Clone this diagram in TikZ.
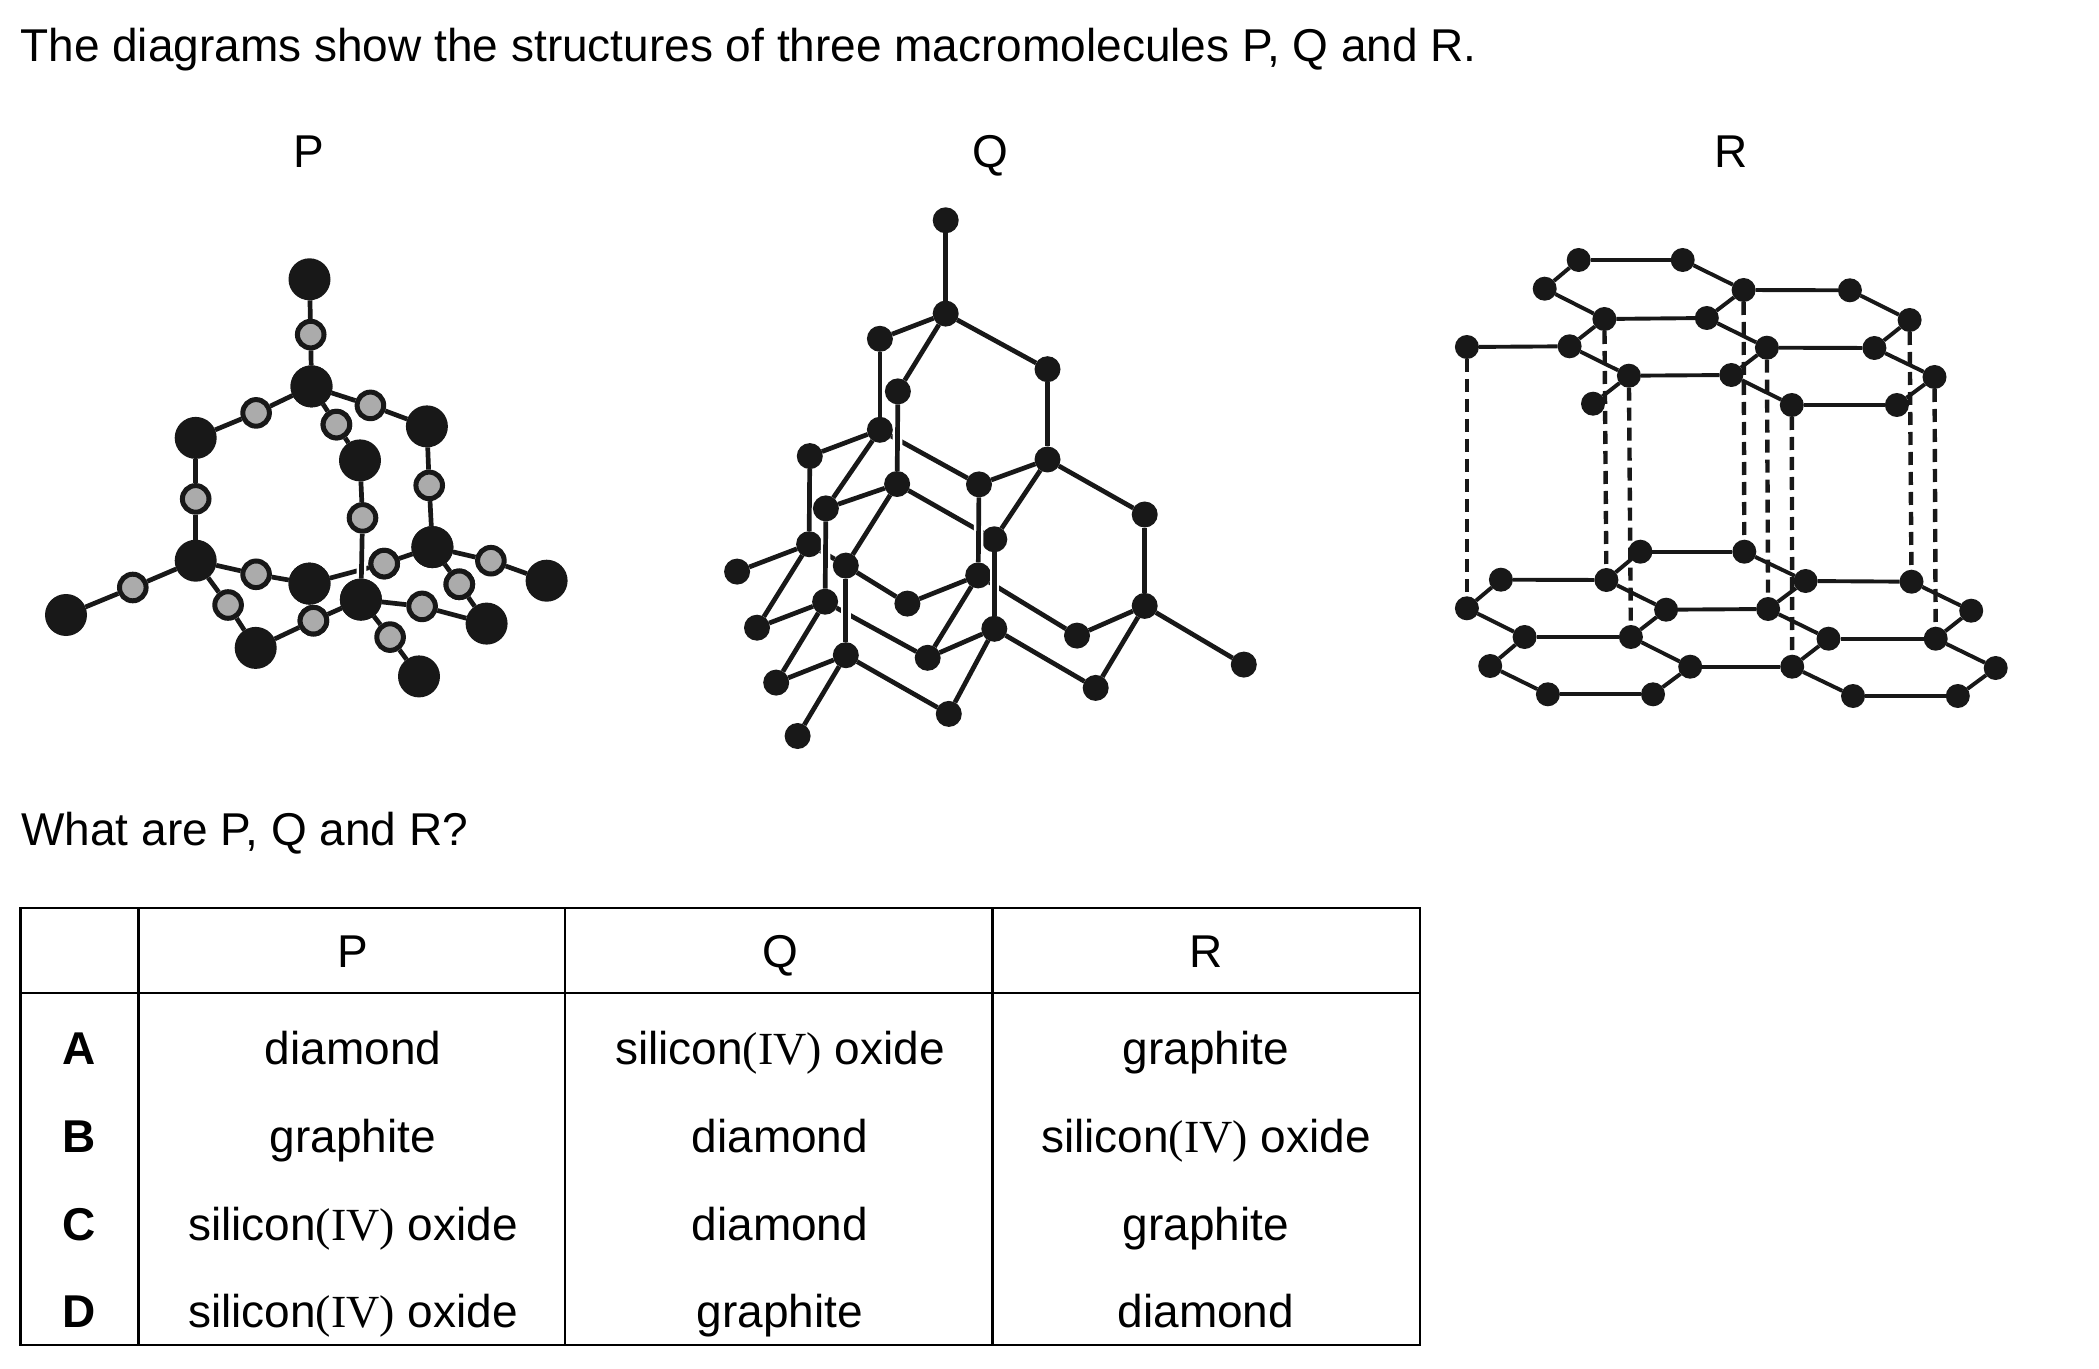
\documentclass[tikz,border=0pt]{standalone}
\usepackage{fontspec}
\setmainfont{Liberation Sans}
\newfontfamily\serifpart{Liberation Serif}
\definecolor{inkblack}{RGB}{24,24,24}
\definecolor{oxygengrey}{RGB}{171,171,171}
\newcommand{\siliconox}{silicon{\serifpart(IV)} oxide}

\begin{document}
\begin{tikzpicture}[x=0.50pt,y=0.50pt,yscale=-1,xscale=1,
  label/.style={anchor=base,inner sep=0pt,font=\fontsize{23}{27}\selectfont},
  leftlabel/.style={label,anchor=base west},
  rowlabel/.style={label,font=\fontsize{23}{27}\selectfont\bfseries},
  bigatom/.style={circle,fill=inkblack,inner sep=0pt,outer sep=0pt,minimum size=21pt},
  oxygen/.style={circle,draw=inkblack,fill=oxygengrey,line width=2.5pt,inner sep=0pt,minimum size=13.3pt},
  qatom/.style={circle,fill=inkblack,inner sep=0pt,outer sep=0pt,minimum size=13pt},
  ratom/.style={circle,fill=inkblack,inner sep=0pt,outer sep=0pt,minimum size=12pt},
  bond/.style={draw=inkblack,line width=2.35pt},
  rbond/.style={draw=inkblack,line width=1.95pt},
  gapbond/.style={draw=white,line width=4.8pt},
  layerdash/.style={draw=inkblack,line width=2.2pt,dash pattern=on 6.5pt off 3.5pt},
  tablerule/.style={draw=black,line width=1.4pt}]
\useasboundingbox (0,0) rectangle (2099,1369);

% Text Node
\node [leftlabel] (title) at (20,62) {The diagrams show the structures of three macromolecules P, Q and R.};
\node [label] (nameP) at (308.5,168) {P};
\node [label] (nameQ) at (990.5,168) {Q};
\node [label] (nameR) at (1731.5,168) {R};
\node [leftlabel] (question) at (21,845) {What are P, Q and R?};

% Structure P: silicon atoms
\node [bigatom] (pa) at (309.5,279.3) {};
\node [bigatom] (pb) at (311.5,386.4) {};
\node [bigatom] (pc) at (195.7,437.9) {};
\node [bigatom] (pd) at (426.9,426.4) {};
\node [bigatom] (pe) at (360,460.4) {};
\node [bigatom] (pf) at (195.7,560.7) {};
\node [bigatom] (pg) at (432.4,547.1) {};
\node [bigatom] (ph) at (309.5,583.6) {};
\node [bigatom] (pi) at (360.9,599.6) {};
\node [bigatom] (pj) at (66,615) {};
\node [bigatom] (pk) at (546.6,580.7) {};
\node [bigatom] (pl) at (486.6,623.6) {};
\node [bigatom] (pm) at (255.7,647.9) {};
\node [bigatom] (pn) at (419,676.4) {};
% Structure P: oxygen atoms
\node [oxygen] (oa) at (310.7,334.6) {};
\node [oxygen] (ob) at (256.1,412.9) {};
\node [oxygen] (oc) at (336.4,424.6) {};
\node [oxygen] (od) at (370.4,405.4) {};
\node [oxygen] (oe) at (195.7,498.9) {};
\node [oxygen] (of) at (429.2,485.4) {};
\node [oxygen] (og) at (362.5,517.9) {};
\node [oxygen] (oh) at (384.2,563.6) {};
\node [oxygen] (oi) at (256.1,574.3) {};
\node [oxygen] (oj) at (132.8,587.5) {};
\node [oxygen] (ok) at (228.1,605) {};
\node [oxygen] (ol) at (313.4,620.7) {};
\node [oxygen] (om) at (422.1,606.4) {};
\node [oxygen] (on) at (490.9,560.7) {};
\node [oxygen] (oo) at (459.3,584.3) {};
\node [oxygen] (op) at (390.1,637.1) {};

% Connection
\draw [bond] (pa) -- (oa);
\draw [bond] (oa) -- (pb);
\draw [bond] (pb) -- (ob);
\draw [bond] (ob) -- (pc);
\draw [bond] (pb) -- (oc);
\draw [bond] (oc) -- (pe);
\draw [bond] (pb) -- (od);
\draw [bond] (od) -- (pd);
\draw [bond] (pc) -- (oe);
\draw [bond] (oe) -- (pf);
\draw [bond] (pd) -- (of);
\draw [bond] (of) -- (pg);
\draw [bond] (pg) -- (oh);
\draw [bond] (oh) -- (ph);
\draw [bond] (pf) -- (oi);
\draw [bond] (oi) -- (ph);
\draw [bond] (pf) -- (oj);
\draw [bond] (oj) -- (pj);
\draw [bond] (pf) -- (ok);
\draw [bond] (ok) -- (pm);
\draw [bond] (pm) -- (ol);
\draw [bond] (ol) -- (pi);
\draw [bond] (pi) -- (om);
\draw [bond] (om) -- (pl);
\draw [bond] (pi) -- (op);
\draw [bond] (op) -- (pn);
\draw [bond] (pg) -- (on);
\draw [bond] (on) -- (pk);
\draw [bond] (pg) -- (oo);
\draw [bond] (oo) -- (pl);
\draw [gapbond] (og) -- (pi);
\draw [bond] (pe) -- (og);
\draw [bond] (og) -- (pi);
% atoms again, above the bonds
\foreach \atom/\px/\py in {ph/309.5/583.6,pb/311.5/386.4,pi/360.9/599.6,pg/432.4/547.1}
  \node [bigatom] at (\px,\py) {};
\foreach \atom/\px/\py in {ol/313.4/620.7,oc/336.4/424.6,oh/384.2/563.6,oo/459.3/584.3}
  \node [oxygen] at (\px,\py) {};

% Structure Q
\node [qatom] (qa) at (945.7,220.3) {};
\node [qatom] (qb) at (945.7,313.6) {};
\node [qatom] (qc) at (879.9,338.8) {};
\node [qatom] (qd) at (1047.5,369.2) {};
\node [qatom] (qe) at (897.9,391.4) {};
\node [qatom] (qf) at (879.9,429.8) {};
\node [qatom] (qg) at (1047.5,459.5) {};
\node [qatom] (qh) at (809.8,456.1) {};
\node [qatom] (qi) at (979,484.4) {};
\node [qatom] (qj) at (897.1,484) {};
\node [qatom] (qk) at (825.9,508.4) {};
\node [qatom] (ql) at (1144.7,514.5) {};
\node [qatom] (qm) at (994.3,539.3) {};
\node [qatom] (qn) at (809.1,544.2) {};
\node [qatom] (qo) at (737.1,571.6) {};
\node [qatom] (qp) at (845.8,565.6) {};
\node [qatom] (qq) at (978.2,575.4) {};
\node [qatom] (qr) at (825.1,601.7) {};
\node [qatom] (qs) at (907.4,603.6) {};
\node [qatom] (qt) at (757,627.7) {};
\node [qatom] (qu) at (1144.7,605.9) {};
\node [qatom] (qv) at (994.3,628.8) {};
\node [qatom] (qw) at (1077,635.6) {};
\node [qatom] (qx) at (845.8,655.2) {};
\node [qatom] (qy) at (927.7,657.8) {};
\node [qatom] (qz) at (1243.8,664.6) {};
\node [qatom] (qA) at (776.2,682.6) {};
\node [qatom] (qB) at (1095.7,687.9) {};
\node [qatom] (qC) at (948.8,713.9) {};
\node [qatom] (qD) at (797.6,736) {};

% Connection, the ones that pass behind a vertical bond
\draw [bond] (qf) -- (qi);
\draw [bond] (qj) -- (qm);
\draw [bond] (qn) -- (qp);
\draw [bond] (qq) -- (qw);
\draw [bond] (qr) -- (qy);
\draw [gapbond] (qe) -- (qj);
\draw [gapbond] (qi) -- (qq);
\draw [gapbond] (qk) -- (qr);
\draw [gapbond] (qm) -- (qv);
\draw [gapbond] (qp) -- (qx);
% Connection
\draw [bond] (qa) -- (qb);
\draw [bond] (qb) -- (qc);
\draw [bond] (qb) -- (qe);
\draw [bond] (qb) -- (qd);
\draw [bond] (qc) -- (qf);
\draw [bond] (qe) -- (qj);
\draw [bond] (qd) -- (qg);
\draw [bond] (qf) -- (qh);
\draw [bond] (qf) -- (qk);
\draw [bond] (qg) -- (qi);
\draw [bond] (qg) -- (qm);
\draw [bond] (qg) -- (ql);
\draw [bond] (qh) -- (qn);
\draw [bond] (qj) -- (qk);
\draw [bond] (qj) -- (qp);
\draw [bond] (qi) -- (qq);
\draw [bond] (qk) -- (qr);
\draw [bond] (ql) -- (qu);
\draw [bond] (qm) -- (qv);
\draw [bond] (qn) -- (qo);
\draw [bond] (qn) -- (qt);
\draw [bond] (qp) -- (qs);
\draw [bond] (qp) -- (qx);
\draw [bond] (qq) -- (qs);
\draw [bond] (qq) -- (qy);
\draw [bond] (qr) -- (qt);
\draw [bond] (qr) -- (qA);
\draw [bond] (qu) -- (qw);
\draw [bond] (qu) -- (qz);
\draw [bond] (qu) -- (qB);
\draw [bond] (qv) -- (qy);
\draw [bond] (qv) -- (qC);
\draw [bond] (qv) -- (qB);
\draw [bond] (qx) -- (qA);
\draw [bond] (qx) -- (qD);
\draw [bond] (qx) -- (qC);

% Structure R: upper layer
\node [ratom] (ra) at (1578.7,260) {};
\node [ratom] (rb) at (1682.7,260) {};
\node [ratom] (rc) at (1544.7,288.7) {};
\node [ratom] (rd) at (1743.6,290) {};
\node [ratom] (re) at (1849.9,290.3) {};
\node [ratom] (rf) at (1604.4,319) {};
\node [ratom] (rg) at (1706.8,318) {};
\node [ratom] (rh) at (1909.6,320) {};
\node [ratom] (ri) at (1466.9,347) {};
\node [ratom] (rj) at (1569.6,346.3) {};
\node [ratom] (rk) at (1766.9,347.7) {};
\node [ratom] (rl) at (1874.4,348) {};
\node [ratom] (rm) at (1628.9,375.7) {};
\node [ratom] (rn) at (1731.3,375) {};
\node [ratom] (ro) at (1934.5,377) {};
\node [ratom] (rp) at (1593,403.7) {};
\node [ratom] (rq) at (1791.8,405) {};
\node [ratom] (rr) at (1896.9,405) {};
% Structure R: lower layer
\node [ratom] (sa) at (1640.4,551.7) {};
\node [ratom] (sb) at (1744.3,551.7) {};
\node [ratom] (sc) at (1500.9,579.7) {};
\node [ratom] (sd) at (1606.4,580) {};
\node [ratom] (se) at (1805.6,581) {};
\node [ratom] (sf) at (1911.5,581.7) {};
\node [ratom] (sg) at (1466.9,608.3) {};
\node [ratom] (sh) at (1666.1,609.7) {};
\node [ratom] (si) at (1768.1,609) {};
\node [ratom] (sj) at (1971.2,610.7) {};
\node [ratom] (sk) at (1524.6,637) {};
\node [ratom] (sl) at (1630.9,637) {};
\node [ratom] (sm) at (1828.5,638.7) {};
\node [ratom] (sn) at (1935.7,638.7) {};
\node [ratom] (so) at (1490.2,666) {};
\node [ratom] (sp) at (1690.2,666.7) {};
\node [ratom] (sq) at (1792.2,666.7) {};
\node [ratom] (sr) at (1995.7,668) {};
\node [ratom] (ss) at (1547.9,694.3) {};
\node [ratom] (st) at (1653,694.3) {};
\node [ratom] (su) at (1853,696) {};
\node [ratom] (sv) at (1957.8,696) {};

% Dashed Connection
\draw [layerdash] (ri) -- (sg);
\draw [layerdash] (rf) -- (sd);
\draw [layerdash] (rm) -- (sl);
\draw [layerdash] (rd) -- (sb);
\draw [layerdash] (rk) -- (si);
\draw [layerdash] (rq) -- (sq);
\draw [layerdash] (rh) -- (sf);
\draw [layerdash] (ro) -- (sn);
% Connection
\draw [rbond] (ra) -- (rb);
\draw [rbond] (ra) -- (rc);
\draw [rbond] (rb) -- (rd);
\draw [rbond] (rc) -- (rf);
\draw [rbond] (rd) -- (rg);
\draw [rbond] (rd) -- (re);
\draw [rbond] (re) -- (rh);
\draw [rbond] (rf) -- (rg);
\draw [rbond] (rf) -- (rj);
\draw [rbond] (rg) -- (rk);
\draw [rbond] (rh) -- (rl);
\draw [rbond] (ri) -- (rj);
\draw [rbond] (rj) -- (rm);
\draw [rbond] (rk) -- (rn);
\draw [rbond] (rk) -- (rl);
\draw [rbond] (rl) -- (ro);
\draw [rbond] (rm) -- (rn);
\draw [rbond] (rm) -- (rp);
\draw [rbond] (rn) -- (rq);
\draw [rbond] (ro) -- (rr);
\draw [rbond] (rq) -- (rr);
% Connection
\draw [rbond] (sa) -- (sb);
\draw [rbond] (sa) -- (sd);
\draw [rbond] (sb) -- (se);
\draw [rbond] (sc) -- (sd);
\draw [rbond] (sc) -- (sg);
\draw [rbond] (sd) -- (sh);
\draw [rbond] (se) -- (sf);
\draw [rbond] (se) -- (si);
\draw [rbond] (sf) -- (sj);
\draw [rbond] (sg) -- (sk);
\draw [rbond] (sh) -- (si);
\draw [rbond] (sh) -- (sl);
\draw [rbond] (si) -- (sm);
\draw [rbond] (sj) -- (sn);
\draw [rbond] (sk) -- (sl);
\draw [rbond] (sk) -- (so);
\draw [rbond] (sl) -- (sp);
\draw [rbond] (sm) -- (sn);
\draw [rbond] (sm) -- (sq);
\draw [rbond] (sn) -- (sr);
\draw [rbond] (so) -- (ss);
\draw [rbond] (sp) -- (sq);
\draw [rbond] (sp) -- (st);
\draw [rbond] (sq) -- (su);
\draw [rbond] (sr) -- (sv);
\draw [rbond] (ss) -- (st);
\draw [rbond] (su) -- (sv);

% Table
\draw [tablerule] (20.4,908) rectangle (1420,1345);
\draw [tablerule] (20.4,993) -- (1420,993);
\draw [tablerule] (138.4,908) -- (138.4,1345);
\draw [tablerule] (565,908) -- (565,1345);
\draw [tablerule] (992.3,908) -- (992.3,1345);

% Text Node
\node [label] (headP) at (353,967) {P};
\node [label] (headQ) at (779.9,967) {Q};
\node [label] (headR) at (1205.9,967) {R};
\node [rowlabel] (rowA) at (79,1064) {A};
\node [label] (cellAP) at (353,1064) {diamond};
\node [label] (cellAQ) at (779.9,1064) {\siliconox};
\node [label] (cellAR) at (1205.9,1064) {graphite};
\node [rowlabel] (rowB) at (79,1152) {B};
\node [label] (cellBP) at (353,1152) {graphite};
\node [label] (cellBQ) at (779.9,1152) {diamond};
\node [label] (cellBR) at (1205.9,1152) {\siliconox};
\node [rowlabel] (rowC) at (79,1240) {C};
\node [label] (cellCP) at (353,1240) {\siliconox};
\node [label] (cellCQ) at (779.9,1240) {diamond};
\node [label] (cellCR) at (1205.9,1240) {graphite};
\node [rowlabel] (rowD) at (79,1327) {D};
\node [label] (cellDP) at (353,1327) {\siliconox};
\node [label] (cellDQ) at (779.9,1327) {graphite};
\node [label] (cellDR) at (1205.9,1327) {diamond};

\end{tikzpicture}
\end{document}
